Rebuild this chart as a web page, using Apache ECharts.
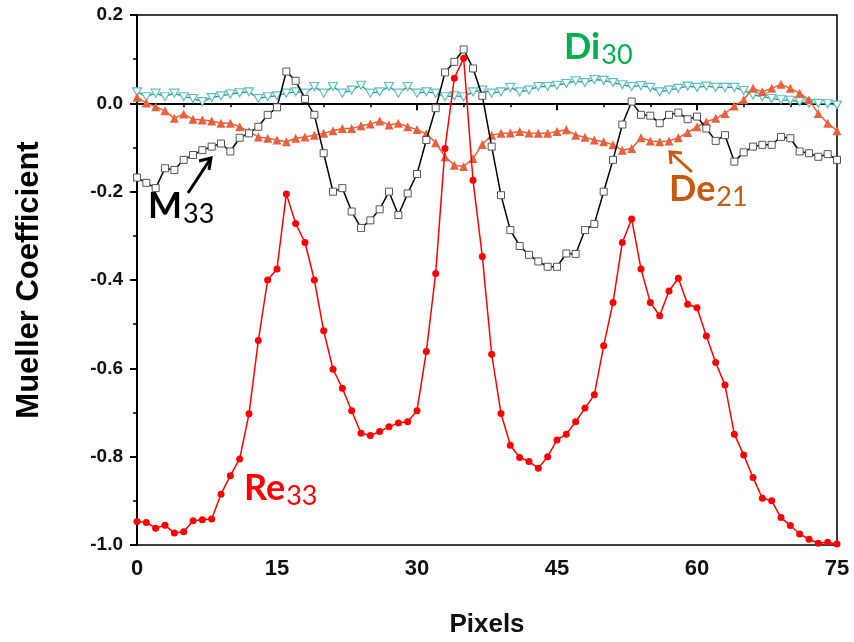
<!DOCTYPE html>
<html>
<head>
<meta charset="utf-8">
<script src="https://cdn.jsdelivr.net/npm/echarts@6/dist/echarts.min.js"></script>
<style>
  html, body { margin: 0; padding: 0; background: #fff; }
  #chart { width: 854px; height: 642px; }
</style>
</head>
<body>
<div id="chart"></div>
<script>
// Pixel index along the scan line
const pixels = [0,1,2,3,4,5,6,7,8,9,10,11,12,13,14,15,16,17,18,19,20,21,22,23,24,25,26,27,28,29,30,31,32,33,34,35,36,37,38,39,40,41,42,43,44,45,46,47,48,49,50,51,52,53,54,55,56,57,58,59,60,61,62,63,64,65,66,67,68,69,70,71,72,73,74,75];

// Retardance element Re33
const re33 = [-0.947,-0.949,-0.962,-0.955,-0.973,-0.970,-0.945,-0.943,-0.941,-0.885,
  -0.843,-0.805,-0.703,-0.537,-0.400,-0.375,-0.205,-0.272,-0.315,-0.400,
  -0.515,-0.602,-0.645,-0.696,-0.747,-0.752,-0.743,-0.732,-0.724,-0.721,
  -0.696,-0.562,-0.385,-0.102,0.057,0.102,-0.174,-0.347,-0.568,-0.702,
  -0.774,-0.802,-0.811,-0.826,-0.800,-0.762,-0.749,-0.721,-0.690,-0.660,
  -0.549,-0.451,-0.315,-0.262,-0.375,-0.451,-0.481,-0.425,-0.396,-0.455,
  -0.463,-0.527,-0.587,-0.638,-0.749,-0.796,-0.847,-0.894,-0.900,-0.938,
  -0.956,-0.975,-0.987,-0.996,-0.994,-0.998];

// Mueller matrix element M33
const m33 = [-0.168,-0.180,-0.192,-0.147,-0.151,-0.128,-0.117,-0.106,-0.098,-0.091,
  -0.109,-0.078,-0.068,-0.053,-0.026,-0.009,0.072,0.051,0.010,-0.026,
  -0.113,-0.200,-0.192,-0.245,-0.282,-0.265,-0.240,-0.200,-0.253,-0.204,
  -0.160,-0.083,-0.011,0.070,0.094,0.122,0.079,0.017,-0.098,-0.208,
  -0.287,-0.323,-0.343,-0.358,-0.370,-0.370,-0.340,-0.341,-0.287,-0.273,
  -0.200,-0.128,-0.048,0.004,-0.026,-0.028,-0.045,-0.026,-0.021,-0.036,
  -0.030,-0.057,-0.085,-0.072,-0.132,-0.111,-0.098,-0.094,-0.094,-0.076,
  -0.079,-0.109,-0.113,-0.121,-0.115,-0.128];

// Depolarization element De21
const de21 = [0.014,0.001,-0.008,-0.017,-0.034,-0.024,-0.036,-0.038,-0.040,-0.045,
  -0.045,-0.053,-0.064,-0.076,-0.079,-0.083,-0.087,-0.079,-0.076,-0.072,
  -0.068,-0.062,-0.057,-0.057,-0.051,-0.047,-0.040,-0.049,-0.045,-0.053,
  -0.059,-0.069,-0.089,-0.121,-0.140,-0.143,-0.125,-0.093,-0.072,-0.068,
  -0.067,-0.064,-0.067,-0.068,-0.068,-0.064,-0.060,-0.072,-0.077,-0.083,
  -0.087,-0.094,-0.106,-0.102,-0.078,-0.085,-0.087,-0.085,-0.078,-0.066,
  -0.053,-0.042,-0.034,-0.023,-0.006,0.008,0.034,0.026,0.034,0.043,
  0.034,0.023,0.008,-0.023,-0.045,-0.062];

// Diattenuation element Di30
const di30 = [0.026,0.015,0.023,0.015,0.023,0.015,0.011,0.004,0.013,0.017,
  0.021,0.024,0.026,0.011,0.015,0.017,0.023,0.026,0.023,0.038,
  0.023,0.038,0.023,0.030,0.041,0.023,0.026,0.038,0.023,0.038,
  0.023,0.026,0.023,0.015,0.017,0.015,0.026,0.030,0.023,0.026,
  0.036,0.026,0.030,0.038,0.038,0.041,0.045,0.051,0.047,0.054,
  0.052,0.047,0.042,0.038,0.040,0.036,0.026,0.030,0.034,0.039,
  0.036,0.039,0.036,0.036,0.036,0.029,0.019,0.015,0.011,0.008,
  0.007,0.004,0.000,0.000,-0.001,-0.004];

// Axis ticks
const xTicks = [0, 15, 30, 45, 60, 75];
const yTicks = [-1.0, -0.8, -0.6, -0.4, -0.2, 0.0, 0.2];

const pair = arr => pixels.map((p, i) => [p, arr[i]]);

const labelFont = "'Liberation Sans', Arial, sans-serif";
const narrowFont = "'Liberation Sans Narrow', 'Arial Narrow', 'Liberation Sans', sans-serif";
const noteFont = "Lato, 'Open Sans', sans-serif";

const chart = echarts.init(document.getElementById('chart'), null, { renderer: 'canvas' });

const option = {
  backgroundColor: '#fff',
  animation: false,
  grid: {
    left: 137, right: 17, top: 15, bottom: 97,
    outerBoundsMode: 'none', containLabel: false,
    show: true, borderColor: '#000', borderWidth: 1.5, backgroundColor: 'transparent'
  },
  xAxis: {
    type: 'value',
    min: xTicks[0], max: xTicks[xTicks.length - 1], interval: 15,
    name: 'Pixels', nameLocation: 'middle', nameGap: 67,
    nameTextStyle: { fontFamily: narrowFont, fontWeight: 'bold', fontSize: 26, color: '#111' },
    axisLine: { lineStyle: { color: '#000', width: 2 } },
    axisTick: { inside: false, length: 7, lineStyle: { color: '#000', width: 2 } },
    minorTick: { show: true, splitNumber: 3, length: 4, lineStyle: { color: '#000', width: 1.5 } },
    splitLine: { show: false },
    axisLabel: { margin: 13, fontFamily: narrowFont, fontWeight: 'bold', fontSize: 22, color: '#111' }
  },
  yAxis: {
    type: 'value',
    min: yTicks[0], max: yTicks[yTicks.length - 1], interval: 0.2,
    name: 'Mueller Coefficient', nameLocation: 'middle', nameGap: 92,
    nameTextStyle: { fontFamily: labelFont, fontWeight: 'bold', fontSize: 31, color: '#000' },
    axisLine: { lineStyle: { color: '#000', width: 2 } },
    axisTick: { inside: false, length: 7, lineStyle: { color: '#000', width: 2 } },
    minorTick: { show: true, splitNumber: 2, length: 4, lineStyle: { color: '#000', width: 1.5 } },
    splitLine: { show: false },
    axisLabel: {
      margin: 14, fontFamily: labelFont, fontWeight: 'bold', fontSize: 19, color: '#111',
      formatter: v => v.toFixed(1)
    }
  },
  series: [
    {
      name: 'Di30', type: 'line', data: pair(di30),
      symbol: 'path://M0,0 L10,0 L5,9 Z', symbolSize: [9, 8],
      lineStyle: { color: '#1f8f8f', width: 1.3 },
      itemStyle: { color: '#ffffff', borderColor: '#5fbfbf', borderWidth: 1.2 },
      z: 2
    },
    {
      name: 'De21', type: 'line', data: pair(de21),
      symbol: 'triangle', symbolSize: 9,
      lineStyle: { color: '#e8603c', width: 1.5 },
      itemStyle: { color: '#e8603c' },
      z: 3
    },
    {
      name: 'M33', type: 'line', data: pair(m33),
      symbol: 'rect', symbolSize: 7,
      lineStyle: { color: '#000', width: 1.5 },
      itemStyle: { color: '#fff', borderColor: '#555', borderWidth: 1 },
      z: 4
    },
    {
      name: 'Re33', type: 'line', data: pair(re33),
      symbol: 'circle', symbolSize: 7,
      lineStyle: { color: '#ff0000', width: 1.5 },
      itemStyle: { color: '#ff0000' },
      z: 5
    }
  ]
};

chart.setOption(option);

// Series name tags with subscripts, and pointer arrows
function textWidth(txt, font) {
  const c = document.createElement('canvas').getContext('2d');
  c.font = font;
  return c.measureText(txt).width;
}

const tags = [
  { main: 'M', sub: '33', x: 148, y: 188, color: '#000' },
  { main: 'Re', sub: '33', x: 244, y: 470, color: '#ff0000' },
  { main: 'Di', sub: '30', x: 564, y: 29, color: '#00b050' },
  { main: 'De', sub: '21', x: 669, y: 171, color: '#c55a11' }
];

const graphics = [];
tags.forEach(t => {
  const mainFont = 'bold 36px ' + noteFont;
  const w = textWidth(t.main, mainFont);
  graphics.push({ type: 'text', left: t.x, top: t.y, z: 10,
    style: { text: t.main, fill: t.color, font: mainFont } });
  graphics.push({ type: 'text', left: t.x + w + 1, top: t.y + 13, z: 10,
    style: { text: t.sub, fill: t.color, font: '27px ' + noteFont } });
});

function arrow(tail, tip, armA, armB, color) {
  return [
    { type: 'polyline', z: 10, shape: { points: [tail, tip] },
      style: { stroke: color, lineWidth: 3, fill: null } },
    { type: 'polyline', z: 10, shape: { points: [armA, tip, armB] },
      style: { stroke: color, lineWidth: 3, fill: null, lineJoin: 'miter' } }
  ];
}
graphics.push(...arrow([188, 193], [211, 158], [199, 161], [209, 170], '#000'));
graphics.push(...arrow([692, 172], [670, 152], [682, 153], [671, 164], '#c55a11'));

chart.setOption({ graphic: graphics });
</script>
</body>
</html>
